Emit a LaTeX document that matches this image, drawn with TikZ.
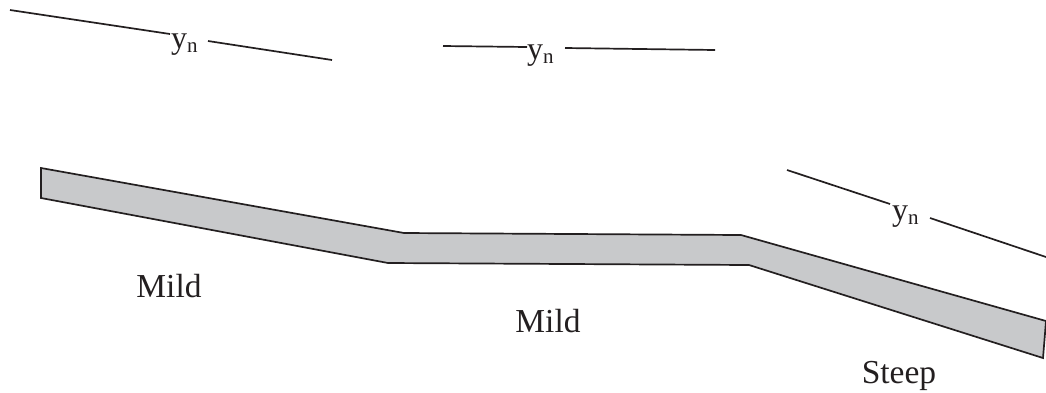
\documentclass[tikz,border=0pt]{standalone}
\usepackage{fontspec}
\setmainfont{Liberation Serif}
\usepackage{tikz}
\usetikzlibrary{positioning}
\definecolor{bedgrey}{HTML}{C8C9CB}
\definecolor{inkline}{HTML}{231F20}
\tikzset{
  normalline/.style={line width=1.7pt,inkline},
  depthlabel/.style={inner sep=0pt,anchor=base west,text=inkline,font=\fontsize{32}{34}\selectfont},
  slopelabel/.style={inner sep=0pt,anchor=base,text=inkline,font=\fontsize{33.5}{36}\selectfont},
}
\newcommand{\yn}{y\raisebox{-4pt}{\fontsize{21}{22}\selectfont n}}
\begin{document}
\begin{tikzpicture}[x=1pt,y=-1pt,line join=miter]
  \useasboundingbox (0,0) rectangle (1046,392);
  % channel bed
  \draw[normalline,fill=bedgrey] (41,168) -- (404,233) -- (741,235) -- (1046,321) -- (1043,358)
    -- (749,265) -- (388,263) -- (41,198) -- cycle;
  % normal depth lines
  \node[depthlabel] (ynone) at (171,48) {\yn};
  \coordinate (aleft) at (10,10);
  \coordinate (amid) at (170,34);
  \coordinate (aright) at (332,60);
  \draw[normalline] (aleft) -- (amid);
  \draw[normalline] (208,41) -- (aright);
  \node[depthlabel] (yntwo) at (527,59) {\yn};
  \coordinate (bleft) at (443,46);
  \coordinate (bmid) at (527,47);
  \coordinate (bright) at (715,50);
  \draw[normalline] (bleft) -- (bmid);
  \draw[normalline] (565,48) -- (bright);
  \node[depthlabel] (ynthree) at (892,220) {\yn};
  \coordinate (cleft) at (787,170);
  \coordinate (cmid) at (890,204);
  \coordinate (cright) at (1046,257);
  \draw[normalline] (cleft) -- (cmid);
  \draw[normalline] (930,218) -- (cright);
  % slopes
  \node[slopelabel] (mildone) at (169,297) {Mild};
  \node[slopelabel] (mildtwo) at (548,332) {Mild};
  \node[slopelabel] (steep) at (899,383) {Steep};
\end{tikzpicture}
\end{document}
